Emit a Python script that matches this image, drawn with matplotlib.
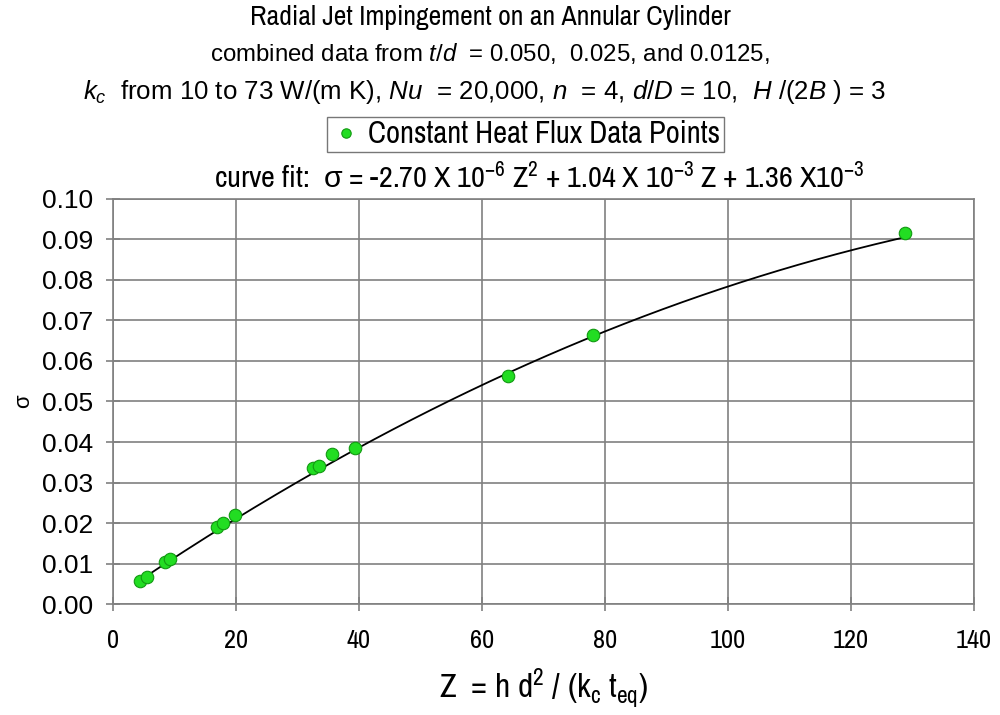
import numpy as np
import matplotlib
matplotlib.use("Agg")
import matplotlib.pyplot as plt

NARROW = ['Archivo Narrow', 'Liberation Sans', 'DejaVu Sans']
REG = ['Liberation Sans', 'DejaVu Sans']
plt.rcParams['font.family'] = NARROW
plt.rcParams['mathtext.fontset'] = 'custom'
plt.rcParams['mathtext.rm'] = 'Liberation Sans'
plt.rcParams['mathtext.it'] = 'Liberation Sans:italic'
plt.rcParams['mathtext.default'] = 'regular'

# data
z_vals = [4.4, 5.5, 8.5, 9.3, 16.9, 17.9, 19.8, 32.5, 33.5, 35.6, 39.3, 64.3, 78.0, 128.8]
sigma_vals = [0.0057, 0.0067, 0.0104, 0.0111, 0.0190, 0.0200, 0.0220,
              0.0336, 0.0341, 0.0370, 0.0385, 0.0563, 0.0664, 0.0916]
fit_coeffs = [-2.70e-6, 1.04e-3, 1.36e-3]
fit_range = [4.0, 129.0]
x_ticks = [0, 20, 40, 60, 80, 100, 120, 140]
y_ticks = [0.00, 0.01, 0.02, 0.03, 0.04, 0.05, 0.06, 0.07, 0.08, 0.09, 0.10]

fig = plt.figure(figsize=(10, 7.15), dpi=100)
ax = fig.add_axes([0.113, 0.155, 0.861, 0.567])

zf = np.linspace(fit_range[0], fit_range[1], 200)
sf = np.polyval(fit_coeffs, zf)
ax.plot(zf, sf, color='black', lw=1.3, zorder=3)
pts, = ax.plot(z_vals, sigma_vals, 'o', ms=9, mfc='#22dd22', mec='#119911', mew=0.8,
               zorder=4, label='Constant Heat Flux Data Points')

ax.set_xlim(0, 140)
ax.set_ylim(0, 0.10)
ax.set_xticks(x_ticks)
ax.set_yticks(y_ticks)
ax.set_yticklabels([f"{v:.2f}" for v in y_ticks], family=REG, fontsize=19)
ax.set_xticklabels([str(v) for v in x_ticks], fontsize=19)
ax.grid(True, color='#808080', lw=1.2)
ax.set_axisbelow(True)
for s in ax.spines.values():
    s.set_color('#808080')
    s.set_linewidth(1.2)
ax.tick_params(direction='inout', length=10, color='#808080', width=1.2)
ax.tick_params(axis='y', pad=9)
ax.tick_params(axis='x', pad=13)

ax.set_ylabel('σ', fontsize=16, family=REG, labelpad=6)
ax.set_xlabel(r'Z  = h d$^2$ / (k$_c$ t$_{eq}$)', fontsize=24, labelpad=10)

fig.text(0.49, 0.975, 'Radial Jet Impingement on an Annular Cylinder', ha='center', va='center', fontsize=20)
fig.text(0.49, 0.925, r'combined data from $\mathit{t/d}$  = 0.050,  0.025, and 0.0125,',
         ha='center', va='center', fontsize=17.3, family=REG)
fig.text(0.485, 0.872, r'$\mathit{k}_{\mathit{c}}$  from 10 to 73 W/(m K), $\mathit{Nu}$  = 20,000, $\mathit{n}$  = 4, $\mathit{d/D}$ = 10,  $\mathit{H}$ /(2$\mathit{B}$ ) = 3',
         ha='center', va='center', fontsize=18.6, family=REG)
fig.text(0.539, 0.752, r'curve fit:  $\mathrm{σ}$ = -2.70 X 10$^{-6}$ Z$^2$ + 1.04 X 10$^{-3}$ Z + 1.36 X10$^{-3}$',
         ha='center', va='center', fontsize=21.8)

leg = fig.legend(handles=[pts], loc='center', bbox_to_anchor=(0.5255, 0.812), fontsize=22,
                 frameon=True, fancybox=False, handletextpad=0.2, borderpad=0.12, handlelength=1.0,
                 markerscale=0.75, borderaxespad=0)
leg.get_frame().set_edgecolor('#555555')
leg.get_frame().set_linewidth(1.0)

fig.savefig('out.png', dpi=100)
